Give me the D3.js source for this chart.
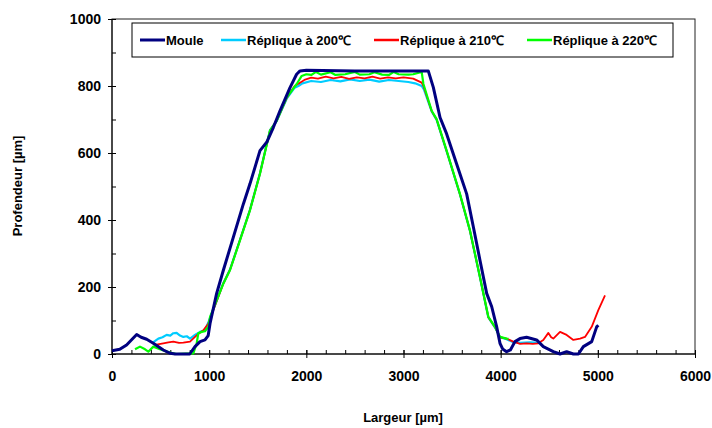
<!DOCTYPE html>
<html>
<head>
<meta charset="utf-8">
<script src="https://cdn.jsdelivr.net/npm/d3@7"></script>
<style>
  body { margin: 0; background: #fff; }
  text { font-family: "Liberation Sans", Arial, sans-serif; font-weight: bold; }
</style>
</head>
<body>
<svg id="chart" width="712" height="428"></svg>
<script>
// data: [largeur, profondeur] in µm
let moule = [
  [0,10],[80,14],[150,27],[254,58],[300,50],[357,44],[425,32],[528,12],[600,2],[650,0],[800,0],
  [854,22],[906,37],[957,42],[990,55],[1009,91],[1077,181],[1146,250],[1249,349],[1352,448],
  [1420,508],[1523,607],[1592,632],[1660,676],[1729,726],[1832,795],[1900,835],[1935,845],
  [2000,847],[2500,845],[3000,845],[3255,845],[3307,796],[3376,706],[3444,657],[3547,567],
  [3650,478],[3719,379],[3787,280],[3856,181],[3908,141],[3959,81],[3993,32],[4020,15],[4061,7],
  [4100,12],[4147,37],[4199,46],[4267,50],[4370,42],[4439,22],[4542,7],[4611,0],[4679,7],
  [4748,0],[4800,0],[4851,22],[4937,37],[4988,81],[5005,86]
];
let rep200 = [
  [408,32],[477,46],[520,50],[562,57],[600,55],[631,62],[665,63],[700,55],[734,51],[770,53],
  [803,46],[854,57],[906,66],[957,71],[1000,100],[1146,212],[1214,252],[1317,341],[1420,431],
  [1523,540],[1626,668],[1695,695],[1798,762],[1880,795],[1918,800],[1960,808],[2050,815],
  [2150,812],[2250,818],[2350,814],[2450,820],[2550,815],[2650,819],[2750,813],[2850,818],
  [2950,815],[3050,812],[3120,808],[3187,800],[3210,790],[3290,724],[3341,699],[3444,605],
  [3581,476],[3684,367],[3787,228],[3873,109],[3942,79],[3993,50],[4061,44],[4130,35],
  [4200,33],[4300,35],[4390,33]
];
let rep210 = [
  [443,27],[528,32],[580,35],[631,37],[690,33],[734,34],[803,37],[854,51],[888,60],[940,71],
  [990,90],[1146,211],[1214,251],[1317,340],[1420,430],[1523,539],[1626,667],[1695,696],
  [1798,764],[1880,800],[1935,810],[1980,818],[2050,825],[2120,822],[2200,828],[2280,823],
  [2360,827],[2440,821],[2520,826],[2600,823],[2680,828],[2760,822],[2840,826],[2920,823],
  [3000,826],[3100,822],[3187,810],[3205,800],[3290,725],[3341,700],[3444,606],[3581,477],
  [3684,368],[3787,229],[3873,110],[3942,80],[3993,50],[4061,46],[4130,37],[4200,30],[4267,32],
  [4330,30],[4387,32],[4439,42],[4491,63],[4520,50],[4542,46],[4611,66],[4679,57],[4748,42],
  [4817,46],[4868,51],[4937,81],[5005,131],[5074,175]
];
let rep220 = [
  [237,14],[288,22],[340,14],[374,7],[425,22],[494,14],[597,4],[665,0],[760,1],[837,2],[854,17],
  [871,30],[888,62],[923,66],[957,68],[991,81],[1009,111],[1146,210],[1214,250],[1317,339],
  [1420,429],[1523,538],[1626,667],[1695,696],[1798,766],[1901,806],[1952,830],[2000,835],
  [2050,833],[2100,842],[2150,834],[2250,841],[2300,833],[2400,835],[2500,842],[2550,834],
  [2650,835],[2700,841],[2780,834],[2850,833],[2900,842],[2950,835],[3050,834],[3100,835],
  [3187,842],[3205,806],[3290,726],[3341,701],[3444,607],[3581,478],[3684,369],[3787,230],
  [3873,111],[3942,81],[3993,51],[4061,46],[4080,45]
];
let seriesNames = ['Moule', 'Réplique à 200\u2103', 'Réplique à 210\u2103', 'Réplique à 220\u2103'];
let xTicks = [0, 1000, 2000, 3000, 4000, 5000, 6000];
let yTicks = [0, 200, 400, 600, 800, 1000];

let svg = d3.select('#chart'),
    plotL = 112, plotR = 695, plotT = 19, plotB = 354;

let x = d3.scaleLinear().domain([0, 6000]).range([plotL, plotR]),
    y = d3.scaleLinear().domain([0, 1000]).range([plotB, plotT]);

// plot frame
svg.append('rect')
  .attr('x', plotL).attr('y', plotT)
  .attr('width', plotR - plotL).attr('height', plotB - plotT)
  .attr('fill', 'none').attr('stroke', '#222').attr('stroke-width', 1);

// y axis: major ticks outside, minor inside
let yMajor = svg.append('g').attr('transform', 'translate(' + plotL + ',0)')
  .call(d3.axisLeft(y).tickValues(yTicks).tickSize(4).tickPadding(7).tickFormat(d3.format('d')));
let yMinor = svg.append('g').attr('transform', 'translate(' + plotL + ',0)')
  .call(d3.axisRight(y).tickValues(d3.range(0, 1001, 100)).tickSize(4).tickFormat(''));

// x axis: major ticks cross, minor inside
let xMajor = svg.append('g').attr('transform', 'translate(0,' + plotB + ')')
  .call(d3.axisBottom(x).tickValues(xTicks).tickSize(4).tickPadding(13).tickFormat(d3.format('d')));
xMajor.selectAll('.tick').append('line').attr('y2', -4).attr('stroke', '#000');
let xMinor = svg.append('g').attr('transform', 'translate(0,' + plotB + ')')
  .call(d3.axisTop(x).tickValues(d3.range(0, 6001, 200)).tickSize(4).tickFormat(''));

[yMajor, yMinor, xMajor, xMinor].forEach(g => {
  g.select('.domain').remove();
  g.selectAll('line').attr('stroke', '#000');
  g.selectAll('text').attr('font-size', 14).attr('font-family', '"Liberation Sans", Arial, sans-serif')
    .attr('font-weight', 'bold').attr('fill', '#000');
});
svg.append('line').attr('x1', plotL).attr('x2', plotL).attr('y1', plotT).attr('y2', plotB).attr('stroke', '#000');
svg.append('line').attr('x1', plotL).attr('x2', plotR).attr('y1', plotB).attr('y2', plotB).attr('stroke', '#000');

// curves
let line = d3.line().x(d => x(d[0])).y(d => y(d[1]));
let series = [
  {data: rep200, color: '#00CCFF', width: 2.2},
  {data: rep210, color: '#FF0000', width: 1.8},
  {data: rep220, color: '#00FF00', width: 2.2},
  {data: moule, color: '#000080', width: 3}
];
svg.append('g').selectAll('path')
  .data(series)
  .enter()
  .append('path')
  .attr('d', d => line(d.data))
  .attr('fill', 'none')
  .attr('stroke', d => d.color)
  .attr('stroke-width', d => d.width)
  .attr('stroke-linejoin', 'round');

// legend
svg.append('rect').attr('x', 132).attr('y', 23).attr('width', 541).attr('height', 34)
  .attr('fill', '#fff').attr('stroke', '#000').attr('stroke-width', 1);
let legendColors = ['#000080', '#00CCFF', '#FF0000', '#00FF00'],
    legendX = [140, 221, 374, 527];
let items = svg.append('g').selectAll('g')
  .data(seriesNames)
  .enter()
  .append('g')
  .attr('transform', (d, i) => 'translate(' + legendX[i] + ',40)');
items.append('line').attr('x1', 0).attr('x2', 25)
  .attr('stroke', (d, i) => legendColors[i]).attr('stroke-width', (d, i) => i == 0 ? 3 : 2.5);
items.append('text').attr('x', 26).attr('dy', '0.36em').attr('font-size', 13).text(d => d);

// axis titles
svg.append('text').attr('x', 403).attr('y', 422).attr('text-anchor', 'middle')
  .attr('font-size', 13).text('Largeur [µm]');
svg.append('text').attr('transform', 'translate(22,186) rotate(-90)').attr('text-anchor', 'middle')
  .attr('font-size', 13).text('Profendeur [µm]');
</script>
</body>
</html>
